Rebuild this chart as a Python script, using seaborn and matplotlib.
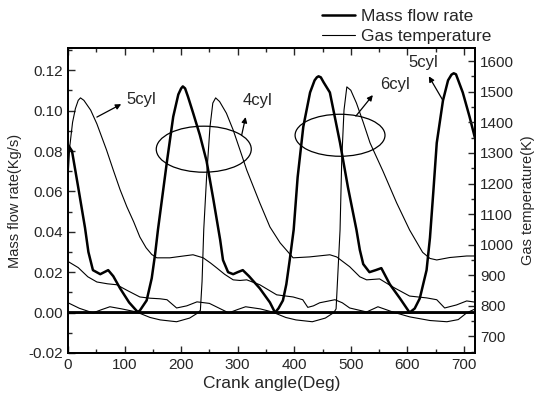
import matplotlib
matplotlib.use("Agg")
import matplotlib.pyplot as plt
import seaborn as sns
from matplotlib.lines import Line2D
from matplotlib.patches import Ellipse
from matplotlib.ticker import MultipleLocator

# mass flow rate (Kg/s) per cylinder
mf4_x = [0, 122, 127, 139, 148, 154, 159, 167, 175, 186, 195, 200, 203, 207, 212, 221, 233, 245, 257, 263, 269, 274, 283, 292, 300, 309, 320, 339, 357, 366, 720]
mf4_y = [0, 0, 0.001, 0.006, 0.017, 0.029, 0.041, 0.058, 0.075, 0.097, 0.108, 0.111, 0.112, 0.111, 0.107, 0.099, 0.088, 0.075, 0.056, 0.046, 0.036, 0.026, 0.020, 0.019, 0.020, 0.021, 0.018, 0.012, 0.005, 0, 0]

mf6_x = [0, 366, 372, 380, 386, 392, 399, 406, 416, 428, 436, 440, 443, 447, 452, 463, 481, 495, 510, 516, 522, 533, 544, 554, 569, 587, 604, 720]
mf6_y = [0, 0, 0.002, 0.006, 0.014, 0.026, 0.041, 0.067, 0.092, 0.109, 0.115, 0.1165, 0.117, 0.1165, 0.114, 0.109, 0.084, 0.062, 0.041, 0.031, 0.024, 0.020, 0.021, 0.022, 0.014, 0.007, 0, 0]

mf5_x = [0, 7, 18, 30, 36, 44, 57, 71, 80, 92, 108, 124, 604, 613, 622, 634, 640, 646, 652, 663, 672, 678, 682, 686, 690, 698, 710, 720]
mf5_y = [0.083, 0.080, 0.062, 0.042, 0.030, 0.021, 0.019, 0.021, 0.018, 0.012, 0.005, 0, 0, 0.002, 0.007, 0.021, 0.037, 0.060, 0.084, 0.105, 0.115, 0.1178, 0.1185, 0.118, 0.115, 0.109, 0.097, 0.086]

# gas temperature (K) per cylinder
t5_x = [0, 3, 8, 13, 18, 22, 28, 40, 51, 68, 80, 92, 104, 116, 127, 138, 148, 157, 180, 200, 221, 239, 252, 263, 277, 292, 304, 316, 339, 369, 398, 415, 424, 434, 445, 472, 485, 498, 528, 548, 574, 604, 640, 670, 690, 705, 720]
t5_y = [1220, 1320, 1400, 1445, 1472, 1480, 1472, 1440, 1395, 1310, 1244, 1180, 1124, 1075, 1025, 990, 968, 957, 957, 962, 967, 957, 940, 924, 903, 885, 883, 885, 869, 836, 829, 820, 795, 800, 810, 820, 810, 793, 780, 797, 780, 764, 752, 748, 755, 777, 790]

t4_x = [0, 20, 44, 60, 74, 95, 121, 145, 163, 192, 215, 228, 234, 237, 240, 245, 251, 256, 261, 268, 280, 292, 304, 316, 339, 357, 375, 398, 427, 463, 475, 498, 516, 528, 551, 574, 604, 634, 652, 666, 687, 705, 720]
t4_y = [810, 792, 777, 788, 797, 790, 780, 762, 754, 748, 760, 775, 785, 880, 1050, 1221, 1385, 1463, 1480, 1468, 1430, 1375, 1310, 1244, 1137, 1058, 1006, 957, 960, 967, 960, 928, 895, 885, 888, 862, 832, 826, 820, 793, 803, 816, 812]

t6_x = [0, 18, 35, 51, 70, 86, 105, 127, 145, 163, 175, 192, 210, 228, 250, 284, 300, 314, 340, 361, 385, 403, 432, 455, 470, 474, 477, 481, 484, 488, 493, 500, 510, 522, 534, 557, 581, 604, 627, 640, 652, 675, 705, 720]
t6_y = [945, 925, 895, 878, 872, 869, 850, 829, 825, 823, 820, 793, 800, 813, 808, 777, 788, 797, 790, 780, 762, 754, 748, 760, 778, 790, 900, 1048, 1277, 1440, 1516, 1505, 1463, 1400, 1333, 1240, 1137, 1048, 975, 955, 950, 958, 963, 963]

x_ticks = [0, 100, 200, 300, 400, 500, 600, 700]
mf_ticks = [-0.02, 0.00, 0.02, 0.04, 0.06, 0.08, 0.10, 0.12]
t_ticks = [700, 800, 900, 1000, 1100, 1200, 1300, 1400, 1500, 1600]

sns.set_style("ticks")
plt.rcParams['font.family'] = ['Liberation Sans', 'DejaVu Sans']

fig = plt.figure(figsize=(5.4, 3.97), dpi=100)
ax = fig.add_axes([0.126, 0.111, 0.754, 0.768])
ax2 = ax.twinx()

thick = 1.8
thin = 0.8
for xs, ys in [(mf4_x, mf4_y), (mf6_x, mf6_y), (mf5_x, mf5_y)]:
    sns.lineplot(x=xs, y=ys, ax=ax, color="black", lw=thick, estimator=None, sort=False)
for xs, ys in [(t5_x, t5_y), (t4_x, t4_y), (t6_x, t6_y)]:
    sns.lineplot(x=xs, y=ys, ax=ax2, color="black", lw=thin, estimator=None, sort=False)

ax.set_xlim(0, 720)
ax.set_ylim(-0.02, 0.131)
ax2.set_ylim(646, 1643)
ax.set_xticks(x_ticks)
ax.set_yticks(mf_ticks)
ax.set_yticklabels([f"{v:.2f}" for v in mf_ticks])
ax2.set_yticks(t_ticks)
ax.xaxis.set_minor_locator(MultipleLocator(50))
ax.yaxis.set_minor_locator(MultipleLocator(0.01))
ax2.yaxis.set_minor_locator(MultipleLocator(50))

ax.tick_params(which="both", direction="in", top=True, right=False, labelsize=11, width=1)
ax.tick_params(which="major", length=5)
ax.tick_params(which="minor", length=3)
ax2.tick_params(which="both", direction="in", labelsize=11, width=1)
ax2.tick_params(which="major", length=5)
ax2.tick_params(which="minor", length=3)
for a in (ax, ax2):
    for s in a.spines.values():
        s.set_linewidth(1.3)
        s.set_color("black")

ax.set_xlabel("Crank angle(Deg)", fontsize=12.5, labelpad=3)
ax.set_ylabel("Mass flow rate(Kg/s)", fontsize=10.5, labelpad=5)
ax2.set_ylabel("Gas temperature(K)", fontsize=10.5, labelpad=5)

# ellipses and labels
ax.add_patch(Ellipse((240, 0.0809), 168, 0.0228, fill=False, lw=0.9, color="black"))
ax.add_patch(Ellipse((481, 0.0878), 159, 0.0208, fill=False, lw=0.9, color="black"))

arrow = dict(arrowstyle="-|>", lw=0.9, color="black", mutation_scale=8, shrinkA=0, shrinkB=0)
ax.annotate("", xy=(94, 0.1032), xytext=(51, 0.0968), arrowprops=arrow)
ax.annotate("", xy=(314, 0.0968), xytext=(307, 0.0878), arrowprops=arrow)
ax.annotate("", xy=(539, 0.1077), xytext=(509, 0.0973), arrowprops=arrow)
ax.annotate("", xy=(638, 0.117), xytext=(663, 0.105), arrowprops=arrow)
ax.text(104, 0.1057, "5cyl", fontsize=12, va="center")
ax.text(309, 0.1050, "4cyl", fontsize=12, va="center")
ax.text(551, 0.1127, "6cyl", fontsize=12, va="center")
ax.text(601, 0.1240, "5cyl", fontsize=12, va="center")

handles = [Line2D([], [], color="black", lw=thick), Line2D([], [], color="black", lw=thin)]
fig.legend(handles, ["Mass flow rate", "Gas temperature"], loc="upper left",
           bbox_to_anchor=(318 / 540, 0.988), borderaxespad=0, borderpad=0.25,
           frameon=False, fontsize=12.5, handlelength=1.9, handletextpad=0.3,
           labelspacing=0.27)

fig.savefig("out.png", dpi=100)
